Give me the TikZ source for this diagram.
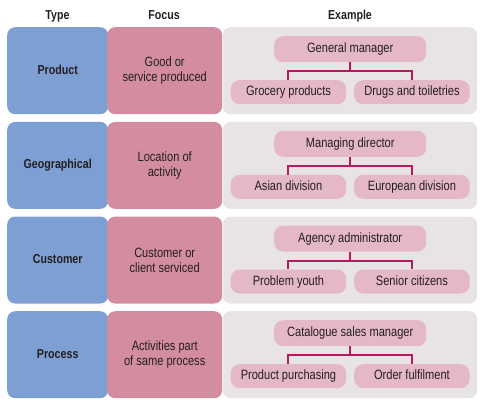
\documentclass[tikz,border=0pt]{standalone}
\usepackage{fontspec}
\setmainfont{Liberation Sans}[FakeStretch=0.82]
\definecolor{typeblue}{HTML}{7E9FD4}
\definecolor{focuspink}{HTML}{D48DA0}
\definecolor{exgrey}{HTML}{E8E4E4}
\definecolor{innerpink}{HTML}{E4B8C4}
\definecolor{linkred}{HTML}{B8195F}
\definecolor{txt}{HTML}{231F20}
\begin{document}
\begin{tikzpicture}[x=1pt,y=-1pt,
  every node/.style={text=txt,font=\fontsize{13.5}{15}\selectfont,inner sep=0pt},
  oneline/.style={text height=9.6pt,text depth=2.6pt},
  hdr/.style={font=\bfseries\fontsize{13}{14}\selectfont},
  typebox/.style={fill=typeblue,rounded corners=8pt,minimum width=101pt,minimum height=87pt,anchor=north west,font=\bfseries\fontsize{13}{14}\selectfont},
  focusbox/.style={fill=focuspink,rounded corners=8pt,minimum width=115pt,minimum height=87pt,anchor=north west,align=center},
  exbox/.style={fill=exgrey,rounded corners=8pt,minimum width=254.5pt,minimum height=87pt,anchor=north west},
  parbox/.style={oneline,fill=innerpink,rounded corners=9pt,minimum width=152pt,minimum height=26pt,anchor=north west},
  childbox/.style={oneline,fill=innerpink,rounded corners=9pt,minimum width=115.5pt,minimum height=24pt,anchor=north west},
  link/.style={draw=linkred,line width=2pt}
]
\useasboundingbox (0,0) rectangle (485,416);
\node[hdr,oneline] (h1) at (57.5,16) {Type};
\node[hdr,oneline] (h2) at (164,16) {Focus};
\node[hdr,oneline] (h3) at (350,16) {Example};
\foreach \i/\t/\f/\p/\l/\r in {
  0/Product/{Good or\\service produced}/General manager/Grocery products/Drugs and toiletries,
  1/Geographical/{Location of\\activity}/Managing director/Asian division/European division,
  2/Customer/{Customer or\\client serviced}/Agency administrator/Problem youth/Senior citizens,
  3/Process/{Activities part\\of same process}/Catalogue sales manager/Product purchasing/Order fulfilment}
{
  \pgfmathsetmacro{\top}{27+\i*94.67}
  \node[typebox,oneline] (type\i) at (7,\top) {\t};
  \node[focusbox] (focus\i) at (107,\top) {\f};
  \node[exbox] (ex\i) at (222.5,\top) {};
  \node[parbox] (par\i) at (274,\top+9) {\p};
  \node[childbox] (cl\i) at (230.5,\top+53) {\l};
  \node[childbox] (cr\i) at (354,\top+53) {\r};
  \draw[link] (par\i.south) -- ++(0,9) -| (cl\i.north);
  \draw[link] (par\i.south) -- ++(0,9) -| (cr\i.north);
}
\end{tikzpicture}
\end{document}
